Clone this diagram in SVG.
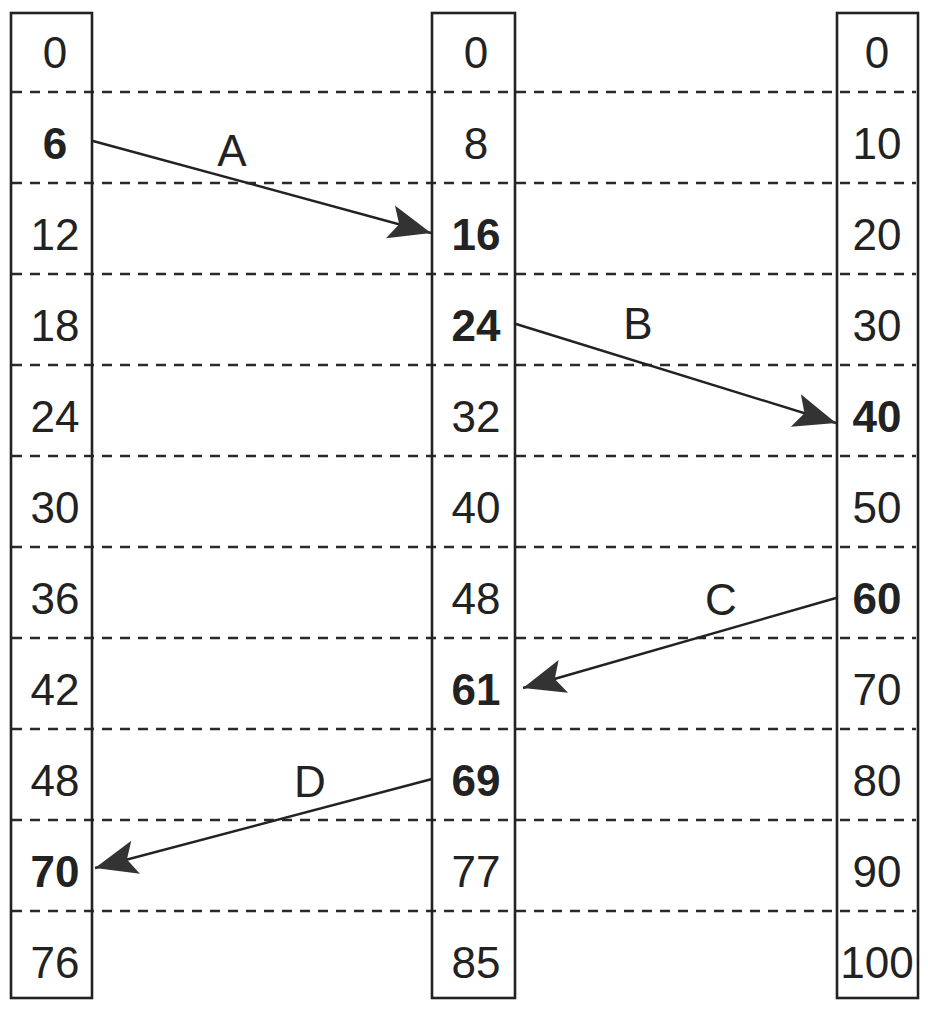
<svg xmlns="http://www.w3.org/2000/svg" width="928" height="1015" viewBox="0 0 928 1015">
<style>
.col{fill:none;stroke:#222;stroke-width:2.6}
.dash{stroke:#2a2a2a;stroke-width:2.6;stroke-dasharray:10 8;fill:none}
.conn{stroke:#222;stroke-width:2.4;fill:none;marker-end:url(#ah)}
text{font-family:"Liberation Sans",Arial,sans-serif;font-size:44px;fill:#222;text-anchor:middle}
.b{font-weight:bold}
</style>
<defs>
<marker id="ah" markerUnits="userSpaceOnUse" viewBox="-44 -19 46 38" refX="0" refY="0" markerWidth="46" markerHeight="38" orient="auto">
<path d="M0,0 L-42,-17 L-33,0 L-42,17 Z" fill="#333"/>
</marker>
</defs>
<rect width="928" height="1015" fill="#fff"/>
<g id="gridlines">
<path class="dash" d="M12,92H916M12,183H916M12,274H916M12,365H916M12,456H916M12,547H916M12,638H916M12,729H916M12,820H916M12,911H916"/>
</g>
<g id="col-left">
<rect class="col" x="11" y="13" width="81" height="985"/>
<text x="55" y="68">0</text>
<text x="55" y="159" class="b">6</text>
<text x="55" y="250">12</text>
<text x="55" y="341">18</text>
<text x="55" y="432">24</text>
<text x="55" y="523">30</text>
<text x="55" y="614">36</text>
<text x="55" y="705">42</text>
<text x="55" y="796">48</text>
<text x="55" y="887" class="b">70</text>
<text x="55" y="978">76</text>
</g>
<g id="col-mid">
<rect class="col" x="432" y="13" width="83" height="985"/>
<text x="476" y="68">0</text>
<text x="476" y="159">8</text>
<text x="476" y="250" class="b">16</text>
<text x="476" y="341" class="b">24</text>
<text x="476" y="432">32</text>
<text x="476" y="523">40</text>
<text x="476" y="614">48</text>
<text x="476" y="705" class="b">61</text>
<text x="476" y="796" class="b">69</text>
<text x="476" y="887">77</text>
<text x="476" y="978">85</text>
</g>
<g id="col-right">
<rect class="col" x="837" y="13" width="81" height="985"/>
<text x="877" y="68">0</text>
<text x="877" y="159">10</text>
<text x="877" y="250">20</text>
<text x="877" y="341">30</text>
<text x="877" y="432" class="b">40</text>
<text x="877" y="523">50</text>
<text x="877" y="614" class="b">60</text>
<text x="877" y="705">70</text>
<text x="877" y="796">80</text>
<text x="877" y="887">90</text>
<text x="877" y="978">100</text>
</g>
<g id="connectors">
<line class="conn" x1="93" y1="141" x2="431" y2="233"/>
<line class="conn" x1="516" y1="324" x2="836" y2="423"/>
<line class="conn" x1="836" y1="598" x2="523" y2="688"/>
<line class="conn" x1="432" y1="779" x2="95" y2="868"/>
<text x="232" y="166">A</text>
<text x="638" y="339">B</text>
<text x="721" y="615">C</text>
<text x="310" y="797">D</text>
</g>
</svg>
